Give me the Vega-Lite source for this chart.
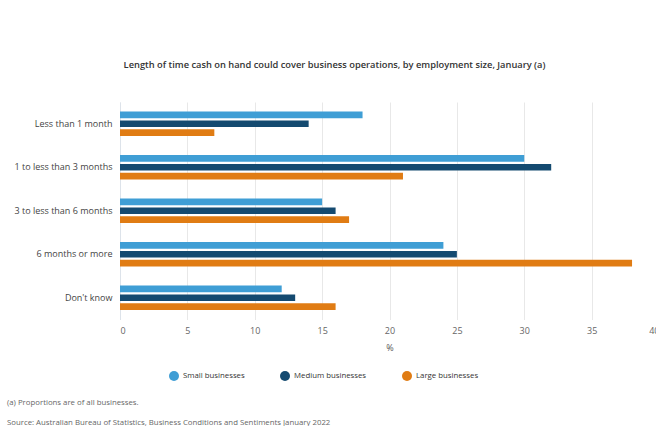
{
  "$schema": "https://vega.github.io/schema/vega-lite/v6.json",
  "padding": {"left": 6, "top": 60, "right": 0, "bottom": 0},
  "background": "white",
  "title": {
    "text": ["(a) Proportions are of all businesses.", "Source: Australian Bureau of Statistics, Business Conditions and Sentiments January 2022"],
    "orient": "bottom", "anchor": "start", "frame": "bounds", "offset": 18, "dx": -7,
    "fontSize": 7.8, "fontWeight": "normal", "color": "#666666", "lineHeight": 20
  },
  "vconcat": [
    {
      "width": 539,
      "height": 217.5,
      "title": {
        "text": "Length of time cash on hand could cover business operations, by employment size, January (a)",
        "anchor": "middle", "frame": "group", "dx": -55, "offset": 32,
        "fontSize": 9.3, "fontWeight": 600, "color": "#333333"
      },
      "data": {
        "values": [
          {"duration": "Less than 1 month", "size": "Small businesses", "pct": 18},
          {"duration": "Less than 1 month", "size": "Medium businesses", "pct": 14},
          {"duration": "Less than 1 month", "size": "Large businesses", "pct": 7},
          {"duration": "1 to less than 3 months", "size": "Small businesses", "pct": 30},
          {"duration": "1 to less than 3 months", "size": "Medium businesses", "pct": 32},
          {"duration": "1 to less than 3 months", "size": "Large businesses", "pct": 21},
          {"duration": "3 to less than 6 months", "size": "Small businesses", "pct": 15},
          {"duration": "3 to less than 6 months", "size": "Medium businesses", "pct": 16},
          {"duration": "3 to less than 6 months", "size": "Large businesses", "pct": 17},
          {"duration": "6 months or more", "size": "Small businesses", "pct": 24},
          {"duration": "6 months or more", "size": "Medium businesses", "pct": 25},
          {"duration": "6 months or more", "size": "Large businesses", "pct": 38},
          {"duration": "Don't know", "size": "Small businesses", "pct": 12},
          {"duration": "Don't know", "size": "Medium businesses", "pct": 13},
          {"duration": "Don't know", "size": "Large businesses", "pct": 16}
        ]
      },
      "mark": {"type": "bar"},
      "encoding": {
        "y": {
          "field": "duration", "type": "nominal",
          "sort": ["Less than 1 month", "1 to less than 3 months", "3 to less than 6 months", "6 months or more", "Don't know"],
          "scale": {"paddingInner": 0.44, "paddingOuter": 0.22},
          "axis": {
            "title": null, "ticks": false, "labelPadding": 8,
            "domainColor": "#dde3ea", "labelFontSize": 9, "labelColor": "#444444", "grid": false
          }
        },
        "x": {
          "field": "pct", "type": "quantitative",
          "scale": {"domain": [0, 40], "nice": false},
          "axis": {
            "title": "%", "values": [0, 5, 10, 15, 20, 25, 30, 35, 40],
            "grid": true, "gridColor": "#e8e8e8", "domain": false, "ticks": false,
            "labelPadding": 7, "labelFontSize": 9, "labelColor": "#666666",
            "titlePadding": 8, "titleFontSize": 9, "titleFontWeight": "normal", "titleColor": "#555555"
          }
        },
        "yOffset": {
          "field": "size", "type": "nominal",
          "sort": ["Small businesses", "Medium businesses", "Large businesses"],
          "scale": {"paddingInner": 0.25, "paddingOuter": 0}
        },
        "color": {
          "field": "size", "type": "nominal",
          "scale": {"domain": ["Small businesses", "Medium businesses", "Large businesses"], "range": ["#3F9ED5", "#144A70", "#E07C14"]},
          "legend": {
            "title": null, "orient": "none", "legendX": 49, "legendY": 269, "direction": "horizontal",
            "symbolType": "circle", "symbolSize": 100, "symbolStrokeWidth": 0, "symbolOpacity": 1,
            "labelFontSize": 7.8, "labelColor": "#333333", "columnPadding": 35, "labelOffset": 4
          }
        }
      }
    }
  ],
  "config": {
    "font": "Open Sans",
    "view": {"stroke": null},
    "concat": {"spacing": 0}
  }
}
